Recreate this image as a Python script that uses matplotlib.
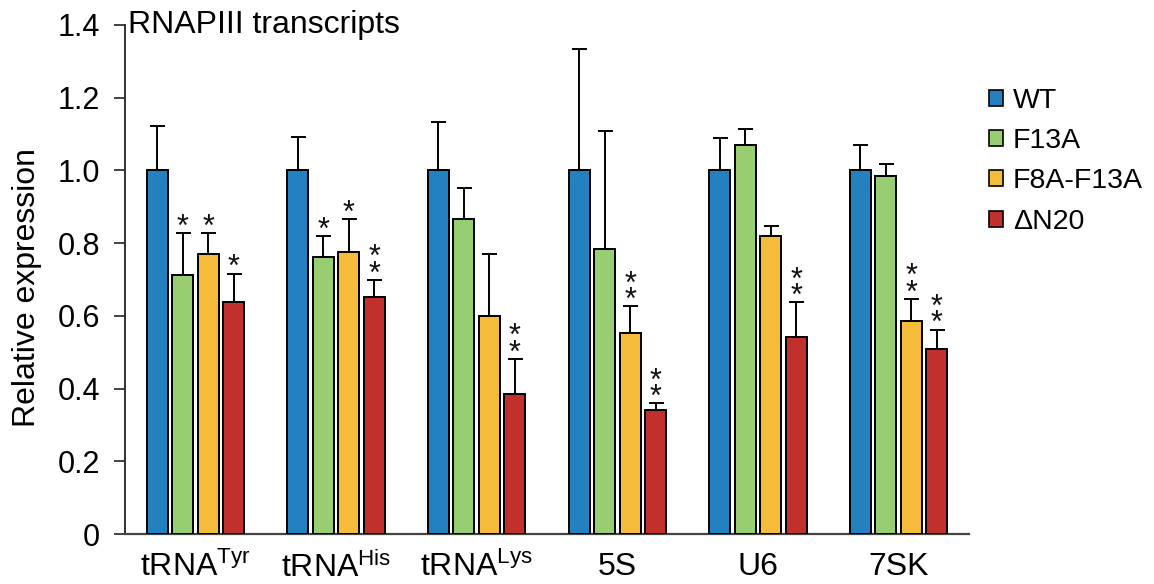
import matplotlib
matplotlib.use("Agg")
import matplotlib.pyplot as plt
from matplotlib.patches import Patch
import numpy as np

plt.rcParams['font.family'] = ['Liberation Sans', 'DejaVu Sans']
plt.rcParams['mathtext.fontset'] = 'custom'
plt.rcParams['mathtext.rm'] = 'Liberation Sans'
plt.rcParams['mathtext.it'] = 'Liberation Sans'

categories = [r'$\mathrm{tRNA}^{\mathrm{Tyr}}$', r'$\mathrm{tRNA}^{\mathrm{His}}$',
              r'$\mathrm{tRNA}^{\mathrm{Lys}}$', '5S', 'U6', '7SK']
series = ['WT', 'F13A', 'F8A-F13A', 'ΔN20']
colors = ['#2281BE', '#98CD71', '#F4BC3A', '#C2302E']

wt = [1.0, 1.0, 1.0, 1.0, 1.0, 1.0]
f13a = [0.712, 0.763, 0.867, 0.783, 1.070, 0.985]
f8a_f13a = [0.770, 0.775, 0.600, 0.554, 0.820, 0.586]
dn20 = [0.637, 0.652, 0.384, 0.340, 0.543, 0.510]

wt_err = [0.121, 0.093, 0.134, 0.334, 0.089, 0.070]
f13a_err = [0.115, 0.057, 0.086, 0.325, 0.043, 0.032]
f8a_f13a_err = [0.057, 0.092, 0.169, 0.072, 0.028, 0.060]
dn20_err = [0.079, 0.046, 0.098, 0.019, 0.094, 0.052]

wt_sig = ['', '', '', '', '', '']
f13a_sig = ['*', '*', '', '', '', '']
f8a_f13a_sig = ['*', '*', '', '**', '', '**']
dn20_sig = ['*', '**', '**', '**', '**', '**']

values = [wt, f13a, f8a_f13a, dn20]
errors = [wt_err, f13a_err, f8a_f13a_err, dn20_err]
sigs = [wt_sig, f13a_sig, f8a_f13a_sig, dn20_sig]

fig = plt.figure(figsize=(11.54, 5.84), dpi=100)
ax = fig.add_axes([125/1154, 1-534/584, (969-125)/1154, (534-25)/584])

x = np.arange(len(categories))
step = 0.181
width = 0.149
for i, (vals, errs, sg, col) in enumerate(zip(values, errors, sigs, colors)):
    pos = x + (i - 1.5) * step
    ax.bar(pos, vals, width, color=col, edgecolor='black', linewidth=1.4, zorder=3)
    ax.errorbar(pos, vals, yerr=[np.zeros(len(vals)), errs], fmt='none',
                ecolor='black', elinewidth=1.4, capsize=5.4, capthick=1.4, zorder=2)
    for p, v, e, s in zip(pos, vals, errs, sg):
        if s:
            ax.annotate('\n'.join(s), (p, v + e), xytext=(0, -7.0),
                        textcoords='offset points', ha='center', va='bottom',
                        fontsize=22, color='#111111', linespacing=0.42)

ax.set_xlim(-0.5, 5.5)
ax.set_ylim(0, 1.4)
ax.set_yticks([0, 0.2, 0.4, 0.6, 0.8, 1.0, 1.2, 1.4])
ax.set_yticklabels(['0', '0.2', '0.4', '0.6', '0.8', '1.0', '1.2', '1.4'])
ax.set_xticks(x)
ax.set_xticklabels(categories, fontsize=23)
ax.tick_params(axis='x', length=0, pad=13)
ax.tick_params(axis='y', length=8, width=1.2, labelsize=22, pad=10, color='#222222')
ax.spines['top'].set_visible(False)
ax.spines['right'].set_visible(False)
ax.spines['left'].set_linewidth(1.3)
ax.spines['left'].set_color('#222222')
ax.spines['bottom'].set_linewidth(1.6)
ax.spines['bottom'].set_color('#444444')
ax.set_ylabel('Relative expression', fontsize=23)
ax.yaxis.set_label_coords(-0.098, 0.485)

ax.text(0.004, 1.4, 'RNAPIII transcripts', transform=ax.get_yaxis_transform(),
        fontsize=23, va='center', ha='left')

handles = [Patch(facecolor=c, edgecolor='black', linewidth=1.2) for c in colors]
leg = fig.legend(handles, series, loc='upper left', bbox_to_anchor=(989/1154, 1-88/584),
                 frameon=False, fontsize=20.5, handlelength=0.49, handleheight=0.49,
                 handletextpad=0.35, labelspacing=0.5, borderpad=0, borderaxespad=0)

fig.savefig('out.png', dpi=100)
